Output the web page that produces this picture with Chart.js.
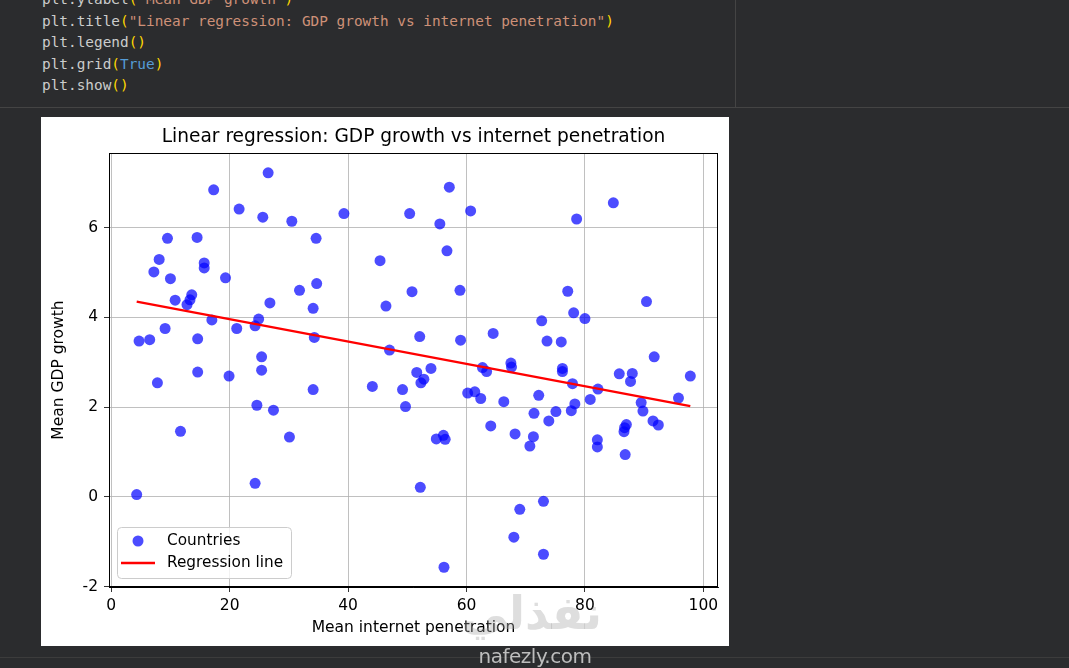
<!DOCTYPE html>
<html>
<head>
<meta charset="utf-8">
<script src="https://cdn.jsdelivr.net/npm/chart.js@4.4.0/dist/chart.umd.min.js"></script>
<style>
  html, body { margin: 0; padding: 0; background: #2b2c2e; width: 1069px; height: 668px; overflow: hidden; }
  body { position: relative; }
  #code { position: absolute; left: 42px; top: -10.7px; font-family: 'DejaVu Sans Mono', monospace; font-size: 14.4px; line-height: 21.4px; color: #cccccc; white-space: pre; }
  .p { color: #ffd700; }
  .s { color: #ce9178; }
  .k { color: #569cd6; }
  #vsep { position: absolute; left: 735px; top: 0; width: 1px; height: 108px; background: #444; }
  #hsep { position: absolute; left: 0; top: 107px; width: 1069px; height: 1px; background: #444; }
  #bsep { position: absolute; left: 0; top: 657px; width: 1069px; height: 1px; background: #3c3c3c; }
  #plot { position: absolute; left: 41px; top: 117px; width: 688px; height: 529px; background: #fff; }
  #wm1 { position: absolute; left: 475px; top: 644px; width: 120px; text-align: center; font-family: 'DejaVu Sans', sans-serif; font-size: 20px; color: #bdbdbd; letter-spacing: -0.5px; }
  #wm2 { position: absolute; left: 466px; top: 586px; width: 136px; text-align: center; font-family: 'DejaVu Sans', sans-serif; font-weight: bold; font-size: 46px; color: rgba(160,160,160,0.35); direction: rtl; }
</style>
</head>
<body>
<div id="code">plt.ylabel<span class="p">(</span><span class="s">"Mean GDP growth"</span><span class="p">)</span>
plt.title<span class="p">(</span><span class="s">"Linear regression: GDP growth vs internet penetration"</span><span class="p">)</span>
plt.legend<span class="p">()</span>
plt.grid<span class="p">(</span><span class="k">True</span><span class="p">)</span>
plt.show<span class="p">()</span></div>
<div id="vsep"></div>
<div id="hsep"></div>
<div id="plot"><canvas id="chart" width="688" height="529"></canvas></div>
<div id="bsep"></div>
<div id="wm2">نفذلي</div>
<div id="wm1">nafezly.com</div>
<script>
// valeurs
const internetPen = [
    4.3, 4.7, 6.5, 7.2, 7.8, 8.1, 9.1, 9.5, 10.0, 10.8, 11.7, 12.8, 13.3, 13.6, 14.5,
    14.6, 14.6, 15.7, 15.7, 17.0, 17.3, 19.3, 19.9, 21.2, 21.6, 24.3, 24.9, 24.6, 24.3,
    25.6, 25.4, 25.4, 26.5, 26.8, 27.4, 30.1, 30.5, 31.8, 34.1, 34.3, 34.1, 34.6, 34.7,
    39.3, 44.1, 45.4, 46.4, 47.0, 49.2, 49.7, 50.4, 50.8, 51.6, 52.1, 52.3, 52.8, 52.2,
    54.0, 54.9, 55.5, 56.1, 56.4, 56.2, 56.7, 57.1, 58.9, 59.0, 60.2, 60.7, 61.4, 62.4,
    62.7, 63.4, 64.1, 64.5, 66.3, 67.5, 67.6, 68.0, 68.2, 69.0, 70.7, 71.3, 71.4, 72.2,
    72.7, 73.0, 73.0, 73.6, 73.9,
    75.1, 76.0, 76.2, 76.2, 77.1, 77.7, 77.9, 78.1, 78.3, 78.6, 80.0, 80.9, 82.1, 82.1,
    82.2, 84.8, 85.8, 86.6, 86.7, 87.0, 86.8, 87.7, 88.0, 89.5, 89.8, 90.4, 91.5, 91.7,
    92.4, 95.8, 97.8
];
const gdpGrowth = [
    0.05, 3.47, 3.50, 5.01, 2.54, 5.29, 3.75, 5.76, 4.86, 4.38, 1.46, 4.28, 4.39, 4.50, 5.78,
    3.52, 2.78, 5.21, 5.10, 3.94, 6.84, 4.88, 2.69, 3.75, 6.41, 3.81, 3.96, 2.04, 0.30,
    6.23, 3.12, 2.82, 7.22, 4.32, 1.93, 1.33, 6.14, 4.60, 4.20, 3.55, 2.39, 5.76, 4.75,
    6.31, 2.46, 5.26, 4.25, 3.27, 2.39, 2.01, 6.31, 4.57, 2.77, 3.57, 2.54, 2.62, 0.21,
    2.86, 1.29, 6.08, 1.37, 1.28, -1.57, 5.48, 6.90, 4.60, 3.49, 2.31, 6.37, 2.34, 2.19,
    2.88, 2.79, 1.58, 3.64, 2.12, 2.98, 2.89, -0.90, 1.40, -0.28, 1.13, 1.34, 1.86, 2.26,
    3.92, -0.10, -1.28, 3.47, 1.69,
    1.90, 3.45, 2.86, 2.79, 4.58, 1.92, 2.52, 4.10, 2.07, 6.19, 3.97, 2.17, 1.27, 1.11,
    2.40, 6.55, 2.74, 1.45, 1.54, 1.61, 0.94, 2.57, 2.75, 2.10, 1.91, 4.35, 1.69, 3.12,
    1.60, 2.20, 2.69
];
// droite de régression (extrémités)
const fitX = [4.3, 97.8];
const fitY = [4.35, 2.02];
const xTicks = [0, 20, 40, 60, 80, 100];
const yTicks = [-2, 0, 2, 4, 6];

const font = { family: 'DejaVu Sans', size: 15.5 };

// cadre noir autour du graphique (spines haut et droite)
const frame = {
    id: 'frame',
    afterDatasetsDraw(chart) {
        const { ctx, chartArea: a } = chart;
        ctx.save();
        ctx.strokeStyle = '#000';
        ctx.lineWidth = 1;
        ctx.strokeRect(Math.round(a.left) + 0.5, Math.round(a.top) + 0.5,
            Math.round(a.right - a.left) - 1, Math.round(a.bottom - a.top) - 1);
        ctx.restore();
    }
};

// légende à la matplotlib, en bas à gauche
const boxLegend = {
    id: 'boxLegend',
    afterDraw(chart) {
        const { ctx, chartArea } = chart;
        const ds = chart.data.datasets;
        const w = 174, h = 51;
        const x = Math.round(chartArea.left) + 8;
        const y = Math.round(chartArea.bottom) - 9 - h;
        ctx.save();
        ctx.fillStyle = 'rgba(255,255,255,0.8)';
        ctx.strokeStyle = '#cccccc';
        ctx.lineWidth = 1;
        ctx.beginPath();
        ctx.roundRect(x + 0.5, y + 0.5, w, h, 4);
        ctx.fill();
        ctx.stroke();
        ctx.font = '15.3px "DejaVu Sans"';
        ctx.textBaseline = 'middle';
        ctx.fillStyle = ds[0].backgroundColor;
        ctx.beginPath();
        ctx.arc(x + 21, y + 14, 5.5, 0, Math.PI * 2);
        ctx.fill();
        ctx.fillStyle = '#000';
        ctx.fillText(ds[0].label, x + 50, y + 14);
        ctx.strokeStyle = ds[1].borderColor;
        ctx.lineWidth = ds[1].borderWidth;
        ctx.beginPath();
        ctx.moveTo(x + 4, y + 36);
        ctx.lineTo(x + 38, y + 36);
        ctx.stroke();
        ctx.fillText(ds[1].label, x + 50, y + 36);
        ctx.restore();
    }
};

const ctx = document.getElementById('chart').getContext('2d');
new Chart(ctx, {
    type: 'scatter',
    data: {
        datasets: [{
            label: 'Countries',
            data: internetPen.map((v, i) => ({ x: v, y: gdpGrowth[i] })),
            backgroundColor: 'rgba(0,0,255,0.7)',
            borderWidth: 0,
            pointRadius: 5.5,
            order: 1
        }, {
            type: 'line',
            label: 'Regression line',
            data: fitX.map((v, i) => ({ x: v, y: fitY[i] })),
            borderColor: '#ff0000',
            borderWidth: 2.3,
            pointRadius: 0,
            fill: false,
            order: 0
        }]
    },
    options: {
        responsive: false,
        animation: false,
        layout: { padding: { left: 0, right: 11, top: 0, bottom: 0 } },
        plugins: {
            legend: { display: false },
            tooltip: { enabled: false },
            title: {
                display: true,
                text: 'Linear regression: GDP growth vs internet penetration',
                fullSize: false,
                color: '#000',
                font: { family: 'DejaVu Sans', size: 18.6, weight: 'normal' },
                padding: { top: 8.9, bottom: 4.8 }
            }
        },
        scales: {
            x: {
                type: 'linear',
                min: -0.375,
                max: 102.475,
                afterBuildTicks: s => { s.ticks = xTicks.map(v => ({ value: v })); },
                afterFit: s => { s.height = 59; },
                grid: { color: '#b0b0b0', lineWidth: 0.8, tickColor: '#000', tickLength: 5 },
                border: { color: '#000', width: 1 },
                ticks: { color: '#000', font: font, padding: 5, maxRotation: 0 },
                title: { display: true, text: 'Mean internet penetration', color: '#000', font: font, padding: { top: 0, bottom: 8.7 } }
            },
            y: {
                type: 'linear',
                min: -2.01,
                max: 7.66,
                afterBuildTicks: s => { s.ticks = yTicks.map(v => ({ value: v })); },
                afterFit: s => { s.width = 68; },
                grid: { color: '#b0b0b0', lineWidth: 0.8, tickColor: '#000', tickLength: 5 },
                border: { color: '#000', width: 1 },
                ticks: { color: '#000', font: font, padding: 6 },
                title: { display: true, text: 'Mean GDP growth', color: '#000', font: font, padding: { top: 8.2, bottom: 0 } }
            }
        }
    },
    plugins: [frame, boxLegend]
});
</script>
</body>
</html>
